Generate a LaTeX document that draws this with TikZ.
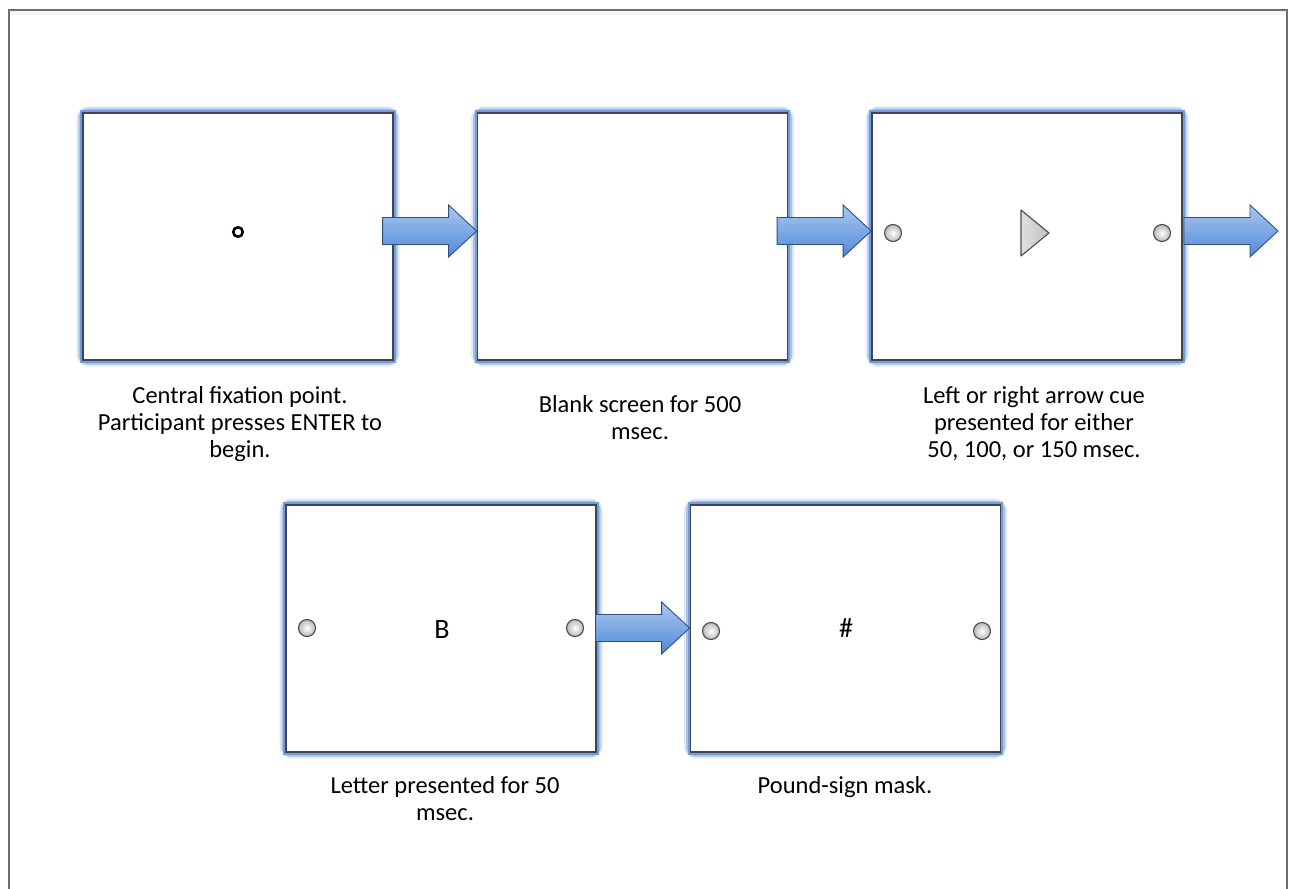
\documentclass[tikz,border=0pt]{standalone}
\usepackage{fontspec}
\setmainfont{Carlito}
\usetikzlibrary{calc}
\definecolor{glowblue}{RGB}{90,140,210}
\definecolor{arrowtop}{RGB}{170,200,240}
\definecolor{arrowbot}{RGB}{80,138,215}
\definecolor{arrowedge}{RGB}{50,78,125}
\definecolor{framegray}{RGB}{110,110,110}
\definecolor{boxedge}{RGB}{65,68,80}
\tikzset{
  screen/.style={minimum width=310pt, minimum height=247pt, inner sep=0pt, draw=boxedge, line width=1.8pt, fill=white},
  glowA/.style={draw=glowblue, line width=13pt, opacity=0.2, rounded corners=6pt},
  glowB/.style={draw=glowblue, line width=9pt, opacity=0.4, rounded corners=4pt},
  glowC/.style={draw=glowblue, line width=5.5pt, opacity=0.7},
  bigarrow/.style={draw=arrowedge, line width=0.9pt, top color=arrowtop, bottom color=arrowbot, line join=miter},
  dot/.style={circle, minimum size=17pt, inner sep=0pt, draw=black!70, line width=1.1pt, inner color=white, outer color=black!28},
  lbl/.style={align=center, font=\fontsize{24.5}{27}\selectfont, inner sep=0pt, anchor=north},
}
\newcommand{\glowbox}[3]{%
  \path[glowA] (#2) ++(-155,-123.5) rectangle ++(310,247);
  \path[glowB] (#2) ++(-155,-123.5) rectangle ++(310,247);
  \path[glowC] (#2) ++(-155,-123.5) rectangle ++(310,247);
  \node[screen] (#1) at (#2) {#3};
}
\newcommand{\fatarrow}[2]{% #1 tip coordinate, #2 name
  \path[bigarrow] (#1) -- ++(-28,-26) -- ++(0,12.5) -- ++(-66,0) -- ++(0,27) -- ++(66,0) -- ++(0,12.5) -- cycle;
  \coordinate (#2) at (#1);
}
\begin{document}
\begin{tikzpicture}[x=1pt,y=-1pt]
\useasboundingbox (0,0) rectangle (1289,888);
\fill[white] (0,0) rectangle (1289,888);
% outer frame
\fill[black!4] (10,11) rectangle (1286,15);
\draw[framegray, line width=2pt] (9,890) -- (9,10) -- (1287,10) -- (1287,890);

\glowbox{b1}{238,236.5}{}
\glowbox{b2}{632.5,236.5}{}
\glowbox{b3}{1027,236.5}{}
\glowbox{b4}{441,628.5}{}
\glowbox{b5}{845.5,628.5}{}

% contents
\node[circle, draw=black, line width=2.6pt, minimum size=9.5pt, inner sep=0pt] (fix) at (238,232) {};
\node[dot] (c3l) at (893,233) {};
\node[dot] (c3r) at (1162,233) {};
\path[draw=black!70, line width=1.1pt, left color=black!12, right color=black!25, line join=round]
  (1021,210) -- (1049,233) -- (1021,256) -- cycle;
\coordinate (tri) at (1035,233);
\node[dot] (c4l) at (307,628) {};
\node[dot] (c4r) at (575,628) {};
\node[font=\fontsize{28}{30}\selectfont, inner sep=0pt] (letB) at (442,630) {B};
\node[dot] (c5l) at (711,631) {};
\node[dot] (c5r) at (982,631) {};
\node[font=\fontsize{28}{30}\selectfont, inner sep=0pt] (pound) at (846,628) {\#};

% arrows
\fatarrow{b2.west |- 0,231}{a1}
\fatarrow{b3.west |- 0,231}{a2}
\coordinate (t3) at (1278,231);
\fatarrow{t3}{a3}
\fatarrow{b5.west |- 0,628}{a4}

% labels
\node[lbl] (l1) at (240,386) {Central fixation point.\\Participant presses ENTER to\\begin.};
\node[lbl] (l2) at (640,395) {Blank screen for 500\\msec.};
\node[lbl] (l3) at (1034,386) {Left or right arrow cue\\presented for either\\50, 100, or 150 msec.};
\node[lbl] (l4) at (445,776) {Letter presented for 50\\msec.};
\node[lbl] (l5) at (845,776) {Pound-sign mask.};
\end{tikzpicture}
\end{document}
